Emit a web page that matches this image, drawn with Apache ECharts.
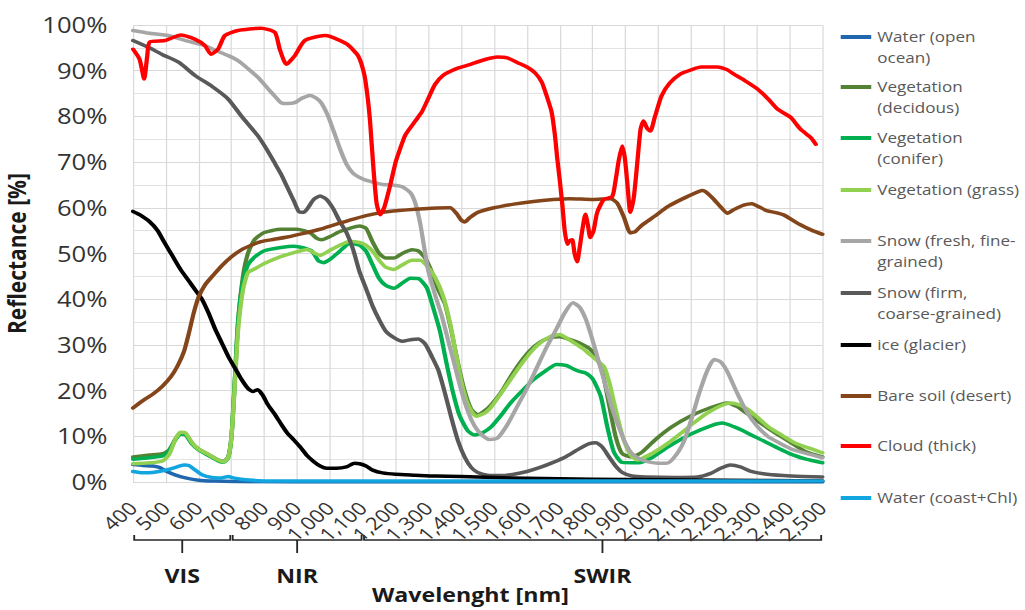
<!DOCTYPE html>
<html>
<head>
<meta charset="utf-8">
<script src="https://cdn.jsdelivr.net/npm/echarts@6/dist/echarts.min.js"></script>
<style>
  html, body { margin: 0; padding: 0; background: #fff; overflow: hidden; }
  /* the drawing is laid out on an 840px canvas and widened to fill the page */
  #chart { width: 840px; height: 610px; transform: scaleX(1.2202); transform-origin: 0 0; }
</style>
</head>
<body>
<div id="chart"></div>
<script>
// Spectral reflectance curves: [wavelength nm, reflectance %]
const waterOcean = [[400,3.8],[430,3.6],[460,3.5],[480,3.2],[500,2.4],[530,1.5],[560,0.9],[600,0.4],[650,0.2],[700,0.1],[800,0.05],[1000,0],[2500,0]];
const vegDeciduous = [[400,5.5],[450,5.9],[490,6.2],[510,7.0],[530,9.5],[545,10.8],[560,10.6],[580,8.5],[600,7.2],[630,6.0],[660,4.8],[675,4.5],[690,5.5],[700,10],[710,22],[720,35],[735,45],[750,50],[770,53],[800,54.6],[850,55.3],[900,55.3],[940,54.5],[960,53.3],[975,53],[1000,53.7],[1030,54.8],[1060,55.5],[1090,56],[1110,55.5],[1130,52.5],[1150,50],[1170,49],[1195,49],[1220,50],[1250,50.8],[1270,50.5],[1290,49],[1310,46],[1330,42],[1350,39],[1370,33],[1390,26],[1410,20],[1430,16],[1450,14.7],[1470,15.5],[1490,16.8],[1520,19.5],[1550,23],[1580,26.2],[1610,28.8],[1640,30.6],[1670,31.6],[1700,31.8],[1730,31.2],[1760,30.4],[1790,29.2],[1810,27.5],[1830,24],[1850,17],[1870,10],[1890,6.2],[1920,5.5],[1950,6.5],[1990,9.2],[2040,12],[2100,14.5],[2160,16.3],[2210,17.3],[2240,16.5],[2260,15.5],[2300,13.5],[2350,11],[2400,8.8],[2450,6.6],[2500,5.5]];
const vegConifer = [[400,5.0],[450,5.3],[490,5.7],[510,6.8],[530,9.3],[545,10.5],[560,10.3],[580,8.3],[600,7.0],[630,5.8],[660,4.6],[675,4.3],[690,5.3],[700,10],[710,22],[720,35],[735,44],[750,47.5],[770,49.2],[800,50.6],[850,51.3],[890,51.6],[920,51.2],[945,50.5],[965,48.4],[980,48],[1000,48.7],[1030,50.5],[1060,52.2],[1090,51.8],[1110,50.5],[1130,47.5],[1150,44.5],[1170,43],[1195,42.4],[1220,43.5],[1245,44.6],[1270,44.5],[1295,42.5],[1315,38],[1335,33],[1355,26],[1375,19.5],[1395,14.5],[1420,11.2],[1440,10.3],[1465,10.8],[1490,12],[1520,14.5],[1550,17.3],[1590,20.3],[1620,22.4],[1660,24.5],[1690,25.7],[1720,25.5],[1740,24.8],[1760,24.2],[1780,23.8],[1800,22.6],[1825,18.7],[1845,12],[1865,6.5],[1890,4.3],[1940,4.2],[1980,5.3],[2030,7.7],[2100,10.5],[2160,12.3],[2195,12.9],[2230,12.1],[2270,10.8],[2320,9],[2400,6.2],[2450,5],[2500,4.2]];
const vegGrass = [[400,4.0],[450,4.2],[490,4.6],[510,6],[530,9.5],[545,10.9],[560,10.7],[580,8.6],[600,7.2],[630,6],[660,4.8],[675,4.4],[690,5.4],[700,10],[710,21],[720,33],[735,42],[750,45.8],[770,46.6],[800,47.8],[850,49.3],[890,50.2],[930,50.9],[955,50],[970,49.6],[1000,50.7],[1030,51.8],[1060,52.6],[1090,52.4],[1110,51.8],[1130,50.5],[1150,48.5],[1170,47],[1195,46.5],[1220,47.5],[1250,48.5],[1275,48.5],[1295,47.3],[1320,44.8],[1345,40.6],[1365,35],[1380,29.5],[1400,22],[1420,17],[1445,14.4],[1470,15],[1490,16.3],[1520,19.3],[1550,22.4],[1580,25.5],[1610,28.3],[1640,30.4],[1670,31.8],[1700,32.3],[1720,31.5],[1745,30.4],[1770,29.2],[1790,28],[1810,26.8],[1835,25.2],[1850,22],[1865,17.5],[1880,13],[1895,9.2],[1915,6],[1936,4.8],[1960,5.5],[1985,6.4],[2030,8.5],[2070,10.7],[2110,13],[2150,15.1],[2190,16.7],[2220,17.3],[2250,16.8],[2275,15.8],[2300,14.3],[2335,12.1],[2375,10.3],[2415,8.6],[2460,7.4],[2500,6.4]];
const snowFresh = [[400,98.8],[450,98.2],[507,97.7],[560,96.6],[619,95.5],[650,94.5],[690,93.3],[720,92.2],[751,90.4],[780,88.6],[812,86],[835,84.2],[851,83],[870,82.8],[893,83],[915,84],[939,84.6],[958,84],[973,83],[994,80.1],[1010,77],[1030,73],[1050,69.6],[1070,67.6],[1100,66.3],[1130,65.6],[1160,65.1],[1190,65],[1220,64.6],[1245,63.3],[1260,61],[1275,56.5],[1290,50],[1300,46],[1320,41],[1340,36.5],[1360,31],[1380,25.5],[1400,20],[1420,15.5],[1440,12.3],[1460,10.5],[1485,9.3],[1510,9.6],[1540,12.5],[1570,16.5],[1600,20.5],[1630,25],[1660,29.5],[1690,33.5],[1715,37],[1740,39.2],[1760,38.3],[1780,35.5],[1800,31],[1820,26],[1840,21],[1860,16],[1880,12],[1900,8.5],[1920,6.2],[1945,5],[1970,4.4],[2000,4.1],[2030,4.2],[2060,6.5],[2080,9.2],[2100,13.5],[2125,19.5],[2150,24.5],[2170,26.8],[2190,26.3],[2210,24.2],[2240,19.5],[2270,15.3],[2300,12.3],[2335,9.9],[2370,8.5],[2410,7.1],[2460,6.1],[2500,5.3]];
const snowFirm = [[400,96.6],[450,95],[490,93.5],[540,91.8],[590,88.9],[640,86.6],[690,83.8],[730,80.1],[780,75.8],[810,72.5],[830,70],[850,67.5],[870,64.5],[890,61.5],[905,59.2],[920,59],[935,60.2],[950,61.8],[970,62.6],[990,61.8],[1010,59.8],[1030,57],[1050,54.6],[1070,51],[1090,46],[1110,42.3],[1130,38.5],[1150,35.5],[1170,33],[1195,31.6],[1220,30.8],[1250,31.2],[1270,31.3],[1290,30.2],[1310,27.5],[1330,24.5],[1350,19.5],[1370,14],[1390,9],[1410,5.5],[1430,3.2],[1450,2.1],[1480,1.5],[1520,1.4],[1560,1.7],[1600,2.3],[1640,3.2],[1680,4.3],[1720,5.6],[1760,7.3],[1790,8.4],[1810,8.6],[1830,7.6],[1850,5.5],[1870,3.5],[1890,2.1],[1920,1.3],[1960,1.1],[2050,1.0],[2120,1.1],[2160,1.9],[2190,3.0],[2220,3.7],[2250,3.3],[2280,2.4],[2320,1.8],[2380,1.4],[2440,1.2],[2500,1.1]];
const iceGlacier = [[400,59.2],[420,58.5],[450,57],[475,55],[495,52.5],[520,49.5],[545,46.5],[570,44],[590,42],[610,40],[630,37],[650,33.5],[670,30.5],[690,27.5],[710,25],[730,22.5],[750,20.5],[765,19.8],[780,20.2],[795,19],[810,17],[830,15],[850,12.8],[870,10.7],[890,9.2],[910,7.6],[930,5.8],[950,4.5],[970,3.5],[990,3.0],[1020,3.0],[1050,3.3],[1075,4.1],[1090,4.0],[1110,3.5],[1130,2.6],[1160,2.0],[1200,1.7],[1260,1.5],[1320,1.3],[1400,1.2],[1500,1.0],[1600,0.8],[1800,0.6],[2000,0.5],[2200,0.4],[2500,0.2]];
const bareSoil = [[400,16.2],[430,17.8],[460,19.2],[490,21],[515,23],[535,25.3],[555,28.5],[570,32.5],[585,37],[600,40.5],[620,43.2],[645,45.3],[670,47.3],[700,49.3],[730,50.8],[760,51.8],[790,52.6],[830,53.1],[870,53.6],[920,54.4],[970,55.3],[1010,56.2],[1060,57.3],[1110,58.3],[1160,59],[1210,59.4],[1260,59.7],[1310,59.9],[1366,60],[1385,58.8],[1400,57.3],[1410,56.9],[1425,57.8],[1450,59],[1500,60],[1560,60.8],[1620,61.4],[1680,61.8],[1730,62],[1800,61.8],[1855,62],[1875,61],[1895,58],[1915,54.5],[1930,54.8],[1950,56.2],[1990,58.2],[2030,60.3],[2090,62.5],[2135,63.8],[2150,63.2],[2170,61.8],[2190,60.2],[2211,58.8],[2230,59.6],[2260,60.6],[2285,60.9],[2310,60.1],[2330,59.4],[2380,58.5],[2430,56.4],[2470,55],[2500,54.2]];
const cloudThick = [[400,94.7],[420,92.5],[434,88.2],[443,93],[451,96.3],[497,96.6],[546,97.8],[588,96.9],[619,95.5],[638,93.6],[659,94.7],[680,97.7],[720,98.8],[790,99.3],[832,98.4],[847,94.7],[867,91.4],[893,93.3],[923,96.6],[984,97.7],[1000,97.5],[1052,95.8],[1086,93.2],[1105,89],[1115,84],[1122,79],[1132,69],[1142,61],[1153,58.5],[1165,60],[1183,64.8],[1200,70],[1214,73],[1230,76],[1260,79],[1280,81],[1300,84],[1320,87],[1345,89],[1380,90.3],[1420,91.2],[1470,92.4],[1510,93],[1540,92.8],[1570,91.8],[1600,90.8],[1625,89.5],[1645,87.5],[1660,84.5],[1675,81],[1685,76],[1692,71],[1700,66],[1708,60.5],[1715,55],[1723,52],[1730,52.8],[1738,53],[1745,50],[1753,48.2],[1760,51],[1769,55.3],[1778,58.6],[1785,56.5],[1793,53.5],[1803,55],[1814,59],[1834,61.8],[1860,62.5],[1870,66],[1880,70.5],[1890,73.5],[1898,71],[1905,66],[1915,59],[1925,62],[1935,69],[1946,77.2],[1955,79],[1966,77.4],[1976,76.8],[1990,80],[2010,84.5],[2035,87.3],[2068,89.3],[2100,90.2],[2130,90.8],[2180,90.8],[2210,90.2],[2229,89.3],[2260,88],[2302,86],[2335,83.8],[2363,81.6],[2403,79.8],[2433,77.2],[2464,75.4],[2480,73.9]];
const waterCoast = [[400,2.3],[430,2.0],[460,2.1],[500,2.6],[530,3.2],[555,3.7],[570,3.6],[590,2.6],[610,1.6],[640,1.0],[670,0.9],[690,1.2],[705,0.9],[730,0.6],[780,0.3],[900,0.2],[1200,0.2],[2500,0.2]];

const seriesNames = [
  'Water (open\nocean)', 'Vegetation\n(decidous)', 'Vegetation\n(conifer)', 'Vegetation (grass)',
  'Snow (fresh, fine-\ngrained)', 'Snow (firm,\ncoarse-grained)', 'ice (glacier)', 'Bare soil (desert)',
  'Cloud (thick)', 'Water (coast+Chl)'
];
const seriesValues = [waterOcean, vegDeciduous, vegConifer, vegGrass, snowFresh, snowFirm, iceGlacier, bareSoil, cloudThick, waterCoast];
const seriesColors = ['#2167ae', '#548235', '#00b050', '#92d050', '#a6a6a6', '#595959', '#000000', '#84451a', '#ff0000', '#12a6e0'];

// Spectral regions marked under the wavelength axis
const regionLabels = ['VIS', 'NIR', 'SWIR'];
const regionFrom = [400, 700, 1100];
const regionTo = [700, 1100, 2500];
const regionMid = [550, 900, 1830];

const FONT = '"Open Sans", sans-serif';
const LINE_H = 21;
// vertical position of each legend entry's swatch (first text line)
const legendRowY = [37, 87, 138, 190, 241, 293, 345, 396, 446, 498];

const chart = echarts.init(document.getElementById('chart'), null, { renderer: 'svg' });

const option = {
  animation: false,
  backgroundColor: '#ffffff',
  grid: { left: 109, right: 166, top: 25, bottom: 128, outerBoundsMode: 'none' },
  xAxis: {
    type: 'value', min: 400, max: 2500, interval: 100,
    axisLine: { show: false }, axisTick: { show: false },
    axisLabel: {
      rotate: 45, margin: 23, fontFamily: FONT, fontSize: 18, color: '#333333',
      formatter: v => v.toLocaleString('en-US')
    },
    splitLine: { show: true, lineStyle: { color: '#d9d9d9', width: 1 } },
    name: 'Wavelenght [nm]', nameLocation: 'middle', nameGap: 103,
    nameTextStyle: { fontFamily: FONT, fontWeight: 'bold', fontSize: 19, color: '#1a1a1a', padding: [0, 12, 0, 0] }
  },
  yAxis: {
    type: 'value', min: 0, max: 100, interval: 10,
    axisLine: { show: false }, axisTick: { show: false },
    axisLabel: { formatter: '{value}%', margin: 21, fontFamily: FONT, fontSize: 21, color: '#333333' },
    splitLine: { show: true, lineStyle: { color: '#d9d9d9', width: 1 } },
    minorTick: { show: false, splitNumber: 2 },
    minorSplitLine: { show: true, lineStyle: { color: '#e3e3e3', width: 1 } },
    name: 'Reflectance [%]', nameLocation: 'middle', nameGap: 73,
    nameTextStyle: { fontFamily: FONT, fontWeight: 'bold', fontSize: 21, color: '#1a1a1a' }
  },
  // one legend block per entry so each row sits at its own height;
  // wrapped names get an empty spacer line on top so the swatch lines up with the first line
  legend: seriesNames.map((name, i) => {
    const twoLine = name.indexOf('\n') >= 0;
    return {
      data: [name],
      orient: 'vertical',
      left: 689,
      top: legendRowY[i] - (twoLine ? LINE_H * 1.5 : LINE_H / 2),
      padding: 0,
      icon: 'rect',
      itemWidth: 25,
      itemHeight: 4,
      selectedMode: false,
      formatter: n => (twoLine ? '{gap|}\n' + n : n),
      textStyle: {
        fontFamily: FONT, fontSize: 14, color: '#595959', lineHeight: LINE_H,
        rich: { gap: { height: LINE_H, lineHeight: LINE_H, fontSize: 14 } }
      }
    };
  }),
  series: seriesNames.map((name, i) => ({
    name: name,
    type: 'line',
    data: seriesValues[i],
    symbol: 'none',
    smooth: 0.2,
    color: seriesColors[i],
    lineStyle: { width: 3.5, color: seriesColors[i], cap: 'round', join: 'round' },
    z: 2 + i * 0.01
  }))
};

chart.setOption(option);

// Brackets for the VIS / NIR / SWIR ranges below the tick labels
const px = wl => chart.convertToPixel({ xAxisIndex: 0 }, wl);
const graphics = [];
regionLabels.forEach((label, i) => {
  const x0 = px(regionFrom[i]) + 1;
  const x1 = px(regionTo[i]) - 1;
  const xm = px(regionMid[i]);
  graphics.push({
    type: 'polyline', silent: true,
    shape: { points: [[x0, 535], [x0, 540], [x1, 540], [x1, 535]] },
    style: { stroke: '#262626', lineWidth: 1.5, fill: 'none' }
  });
  graphics.push({
    type: 'line', silent: true,
    shape: { x1: xm, y1: 540, x2: xm, y2: 553 },
    style: { stroke: '#262626', lineWidth: 1.5 }
  });
  graphics.push({
    type: 'text', silent: true, x: xm, y: 575,
    style: {
      text: label, fontFamily: FONT, fontWeight: 'bold', fontSize: 19,
      fill: '#1a1a1a', align: 'center', verticalAlign: 'middle'
    }
  });
});
chart.setOption({ graphic: graphics });
</script>
</body>
</html>
